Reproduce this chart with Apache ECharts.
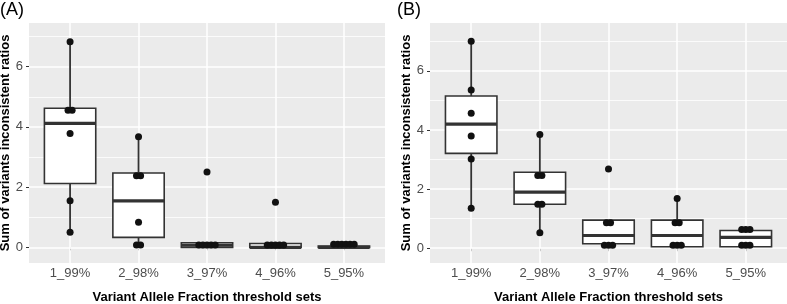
<!DOCTYPE html>
<html>
<head>
<meta charset="utf-8">
<script src="https://cdn.jsdelivr.net/npm/echarts@6/dist/echarts.min.js"></script>
<style>
  html, body { margin: 0; padding: 0; background: #fff; }
  #chart { width: 787px; height: 304px; }
</style>
</head>
<body>
<div id="chart"></div>
<script>
// categories and tick values
const categories = ['1_99%', '2_98%', '3_97%', '4_96%', '5_95%'];
const yTicks = [0, 2, 4, 6];
const yMinor = [1, 3, 5, 7];

// box stats per category: [min, q1, median, q3, max]
const boxA = [
  [0.5, 2.12, 4.12, 4.62, 6.83],
  [0.08, 0.33, 1.54, 2.47, 3.67],
  [0.0, 0.0, 0.07, 0.15, 0.15],
  [0.0, 0.0, 0.0, 0.13, 0.13],
  [0.0, 0.0, 0.0, 0.04, 0.04]
];
const boxB = [
  [1.35, 3.21, 4.2, 5.15, 7.0],
  [0.52, 1.49, 1.9, 2.57, 3.85],
  [0.15, 0.15, 0.43, 0.95, 0.95],
  [0.05, 0.05, 0.43, 0.95, 1.68],
  [0.05, 0.05, 0.37, 0.6, 0.6]
];

// individual points per category
const pointsA = [
  [6.83, 4.55, 4.55, 3.78, 1.55, 0.5],
  [3.67, 2.38, 2.38, 0.83, 0.08, 0.08],
  [2.5, 0.08, 0.08, 0.08, 0.08, 0.08],
  [1.5, 0.08, 0.08, 0.08, 0.08, 0.08],
  [0.1, 0.1, 0.1, 0.1, 0.1, 0.1]
];
const pointsB = [
  [7.0, 5.35, 4.57, 3.8, 3.02, 1.35],
  [3.85, 2.46, 2.46, 1.49, 1.49, 0.52],
  [2.68, 0.86, 0.86, 0.1, 0.1, 0.1],
  [1.68, 0.86, 0.86, 0.1, 0.1, 0.1],
  [0.63, 0.63, 0.63, 0.1, 0.1, 0.1]
];

const FONT = '"Liberation Sans", Arial, sans-serif';
const dotStep = 0.06;
const catPos = categories.map((c, i) => i + 1);

// dotplot style: equal values sit side by side, centered on the category
function dotData(points) {
  const out = [];
  points.forEach((vals, i) => {
    const groups = {};
    vals.forEach(v => { (groups[v] = groups[v] || []).push(v); });
    Object.keys(groups).forEach(k => {
      const n = groups[k].length;
      groups[k].forEach((v, j) => out.push([i + 1 + (j - (n - 1) / 2) * dotStep, v]));
    });
  });
  return out;
}

function boxRender(params, api) {
  const x = api.value(0);
  const mn = api.coord([x, api.value(1)]);
  const q1 = api.coord([x, api.value(2)]);
  const md = api.coord([x, api.value(3)]);
  const q3 = api.coord([x, api.value(4)]);
  const mx = api.coord([x, api.value(5)]);
  const hw = api.size([0.75, 0])[0] / 2;
  const stroke = { stroke: '#333', lineWidth: 1.8 };
  return {
    type: 'group',
    children: [
      { type: 'line', shape: { x1: q3[0], y1: q3[1], x2: mx[0], y2: mx[1] }, style: stroke },
      { type: 'line', shape: { x1: q1[0], y1: q1[1], x2: mn[0], y2: mn[1] }, style: stroke },
      { type: 'rect', shape: { x: q3[0] - hw, y: q3[1], width: hw * 2, height: q1[1] - q3[1] },
        style: { fill: '#fff', stroke: '#333', lineWidth: 1.6 } },
      { type: 'line', shape: { x1: md[0] - hw, y1: md[1], x2: md[0] + hw, y2: md[1] },
        style: { stroke: '#333', lineWidth: 3.2 } }
    ]
  };
}

function gridLines(idx) {
  const data = []
    .concat(yMinor.map(v => ({ yAxis: v, lineStyle: { width: 0.8 } })))
    .concat(yTicks.map(v => ({ yAxis: v, lineStyle: { width: 1.5 } })))
    .concat(catPos.map(v => ({ xAxis: v, lineStyle: { width: 1.5 } })));
  return {
    type: 'line', xAxisIndex: idx, yAxisIndex: idx, data: [], z: 1, silent: true,
    markLine: {
      z: 1, symbol: 'none', silent: true, animation: false, label: { show: false },
      lineStyle: { color: '#fff', type: 'solid' },
      data: data
    }
  };
}

function xAxis(idx) {
  return {
    type: 'value', gridIndex: idx, min: 0.4, max: 5.6,
    name: 'Variant Allele Fraction threshold sets', nameLocation: 'middle', nameGap: 28,
    nameTextStyle: { fontFamily: FONT, fontWeight: 'bold', fontSize: 13, color: '#000' },
    axisLine: { show: false },
    splitLine: { show: false },
    axisTick: { show: true, customValues: catPos, length: 3, lineStyle: { color: '#333' } },
    axisLabel: { customValues: catPos, margin: 4, fontFamily: FONT, fontSize: 13, color: '#4d4d4d',
      formatter: v => categories[Math.round(v) - 1] }
  };
}

function yAxis(idx, min, max, gap) {
  return {
    type: 'value', gridIndex: idx, min: min, max: max,
    name: 'Sum of variants inconsistent ratios', nameLocation: 'middle', nameGap: gap,
    nameTextStyle: { fontFamily: FONT, fontWeight: 'bold', fontSize: 13, color: '#000' },
    axisLine: { show: false },
    splitLine: { show: false },
    axisTick: { show: true, customValues: yTicks, length: 3, lineStyle: { color: '#333' } },
    axisLabel: { customValues: yTicks, margin: 6, fontFamily: FONT, fontSize: 13, color: '#4d4d4d' }
  };
}

const chart = echarts.init(document.getElementById('chart'));
chart.setOption({
  animation: false,
  title: [
    { text: '(A)', left: 0, top: 1, padding: 0, textStyle: { fontFamily: FONT, fontSize: 18, fontWeight: 'normal', color: '#000' } },
    { text: '(B)', left: 397, top: 1, padding: 0, textStyle: { fontFamily: FONT, fontSize: 18, fontWeight: 'normal', color: '#000' } }
  ],
  grid: [
    { left: 29, top: 23, width: 356, height: 240, outerBoundsMode: 'none', containLabel: false,
      show: true, backgroundColor: '#EBEBEB', borderWidth: 0 },
    { left: 430, top: 23, width: 357, height: 240, outerBoundsMode: 'none', containLabel: false,
      show: true, backgroundColor: '#EBEBEB', borderWidth: 0 }
  ],
  xAxis: [xAxis(0), xAxis(1)],
  yAxis: [yAxis(0, -0.52, 7.45, 12), yAxis(1, -0.5, 7.62, 13)],
  series: [
    gridLines(0),
    gridLines(1),
    { type: 'custom', xAxisIndex: 0, yAxisIndex: 0, z: 2, renderItem: boxRender,
      data: boxA.map((b, i) => [i + 1].concat(b)) },
    { type: 'custom', xAxisIndex: 1, yAxisIndex: 1, z: 2, renderItem: boxRender,
      data: boxB.map((b, i) => [i + 1].concat(b)) },
    { type: 'scatter', xAxisIndex: 0, yAxisIndex: 0, z: 3, symbolSize: 7,
      itemStyle: { color: '#111', opacity: 1 }, data: dotData(pointsA) },
    { type: 'scatter', xAxisIndex: 1, yAxisIndex: 1, z: 3, symbolSize: 7,
      itemStyle: { color: '#111', opacity: 1 }, data: dotData(pointsB) }
  ]
});
</script>
</body>
</html>
